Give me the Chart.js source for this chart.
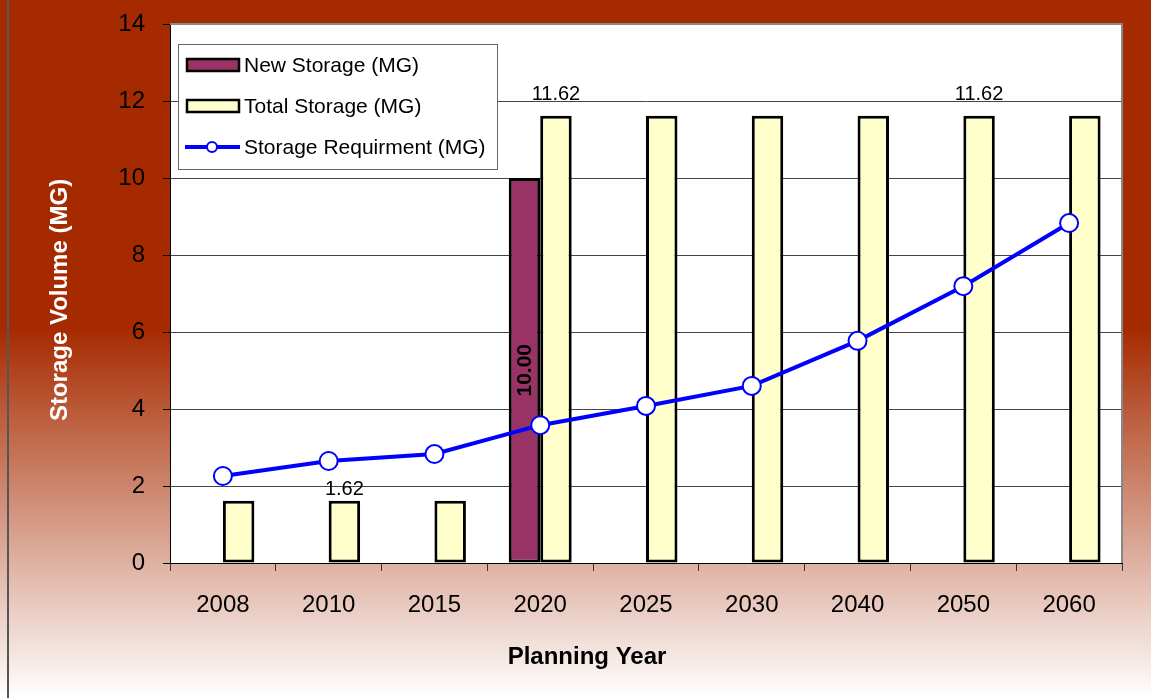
<!DOCTYPE html>
<html>
<head>
<meta charset="utf-8">
<script src="https://cdn.jsdelivr.net/npm/chart.js@4/dist/chart.umd.min.js"></script>
<style>
    html, body { margin: 0; padding: 0; background: #fff; }
    #wrap { width: 1151px; height: 698px; }
</style>
</head>
<body>
<div id="wrap"><canvas id="storageChart" width="1151" height="698"></canvas></div>
<script>
// Chart data
const years = ['2008', '2010', '2015', '2020', '2025', '2030', '2040', '2050', '2060'];
const newStorage = [null, null, null, 10, null, null, null, null, null];
const totalStorage = [1.62, 1.62, 1.62, 11.62, 11.62, 11.62, 11.62, 11.62, 11.62];
const storageReq = [2.26, 2.65, 2.83, 3.58, 4.08, 4.6, 5.77, 7.19, 8.83];
const yTicks = [0, 2, 4, 6, 8, 10, 12, 14];
const labelledTotals = [1, 3, 7]; // bars that carry a value label
const seriesNames = ['New Storage (MG)', 'Total Storage (MG)', 'Storage Requirment (MG)'];

const FONT = '"Liberation Sans", Arial, sans-serif';

// Background, frame and decorations
const decor = {
    id: 'decor',
    beforeDraw(chart) {
        const ctx = chart.ctx;
        const h = chart.height, w = chart.width;
        const g = ctx.createLinearGradient(0, 0, 0, h);
        g.addColorStop(0, '#a62a00');
        g.addColorStop(0.47, '#a62a00');
        g.addColorStop(1, '#ffffff');
        ctx.save();
        ctx.fillStyle = g;
        ctx.fillRect(0, 0, w, h);
        // plot area
        const a = chart.chartArea;
        ctx.fillStyle = '#fff';
        ctx.fillRect(a.left, a.top, a.right - a.left, a.bottom - a.top);
        // left frame line
        ctx.strokeStyle = '#555';
        ctx.lineWidth = 2;
        ctx.beginPath();
        ctx.moveTo(8, 0);
        ctx.lineTo(8, h);
        ctx.stroke();
        ctx.restore();
    },
    beforeDatasetsDraw(chart) {
        const ctx = chart.ctx;
        const a = chart.chartArea;
        ctx.save();
        ctx.strokeStyle = '#888';
        ctx.lineWidth = 2;
        ctx.beginPath();
        ctx.moveTo(a.left, a.top);
        ctx.lineTo(a.right, a.top);
        ctx.lineTo(a.right, a.bottom);
        ctx.stroke();
        ctx.restore();
    },
    afterDatasetsDraw(chart) {
        const ctx = chart.ctx;
        ctx.save();
        ctx.fillStyle = '#000';
        ctx.textAlign = 'center';
        ctx.textBaseline = 'alphabetic';
        ctx.font = '20px ' + FONT;
        const totalMeta = chart.getDatasetMeta(1);
        labelledTotals.forEach(i => {
            const bar = totalMeta.data[i];
            const lift = totalStorage[i] > 10 ? 16 : 6;
            ctx.fillText(totalStorage[i].toFixed(2), bar.x, bar.y - lift);
        });
        // rotated label inside new storage bar
        const newMeta = chart.getDatasetMeta(0);
        newStorage.forEach((v, i) => {
            if (v == null) return;
            const bar = newMeta.data[i];
            ctx.save();
            ctx.translate(bar.x, (bar.y + bar.base) / 2);
            ctx.rotate(-Math.PI / 2);
            ctx.font = 'bold 21px ' + FONT;
            ctx.textBaseline = 'middle';
            ctx.fillText(v.toFixed(2), 0, 1);
            ctx.restore();
        });
        ctx.restore();
    },
    afterDraw(chart) {
        const ctx = chart.ctx;
        ctx.save();
        // axis titles
        ctx.fillStyle = '#000';
        ctx.font = 'bold 24px ' + FONT;
        ctx.textAlign = 'center';
        ctx.textBaseline = 'middle';
        ctx.fillText('Planning Year', 587, 657);
        ctx.save();
        ctx.translate(60, 300);
        ctx.rotate(-Math.PI / 2);
        ctx.fillStyle = '#fff';
        ctx.fillText('Storage Volume (MG)', 0, 0);
        ctx.restore();

        // legend box
        const lx = 178, ly = 44, lw = 319, lh = 125;
        ctx.fillStyle = '#fff';
        ctx.fillRect(lx, ly, lw, lh);
        ctx.strokeStyle = '#666';
        ctx.lineWidth = 1;
        ctx.strokeRect(lx + 0.5, ly + 0.5, lw, lh);
        const rows = [65, 106, 147];
        const ds = chart.data.datasets;
        ctx.font = '21px ' + FONT;
        ctx.textAlign = 'left';
        rows.forEach((y, k) => {
            if (k < 2) {
                ctx.fillStyle = ds[k].backgroundColor;
                ctx.fillRect(187, y - 6, 52, 12);
                ctx.strokeStyle = '#000';
                ctx.lineWidth = 2.5;
                ctx.strokeRect(187, y - 6, 52, 12);
            } else {
                ctx.strokeStyle = ds[k].borderColor;
                ctx.lineWidth = 4;
                ctx.beginPath();
                ctx.moveTo(185, y);
                ctx.lineTo(240, y);
                ctx.stroke();
                ctx.fillStyle = '#fff';
                ctx.lineWidth = 2;
                ctx.beginPath();
                ctx.arc(212, y, 5, 0, Math.PI * 2);
                ctx.fill();
                ctx.stroke();
            }
            ctx.fillStyle = '#000';
            ctx.fillText(seriesNames[k], 244, y + 1);
        });
        ctx.restore();
    }
};

new Chart(document.getElementById('storageChart'), {
    type: 'bar',
    data: {
        labels: years,
        datasets: [
            {
                label: seriesNames[0],
                data: newStorage,
                backgroundColor: '#993366',
                borderColor: '#000',
                borderWidth: 3,
                borderSkipped: false,
                order: 1,
                categoryPercentage: 0.595,
                barPercentage: 1
            },
            {
                label: seriesNames[1],
                data: totalStorage,
                backgroundColor: '#ffffcc',
                borderColor: '#000',
                borderWidth: 3,
                borderSkipped: false,
                order: 1,
                categoryPercentage: 0.595,
                barPercentage: 1
            },
            {
                type: 'line',
                label: seriesNames[2],
                data: storageReq,
                borderColor: '#0000ff',
                borderWidth: 4,
                pointRadius: 9,
                pointBorderWidth: 2,
                pointBackgroundColor: '#fff',
                pointBorderColor: '#0000ff',
                tension: 0,
                order: 0
            }
        ]
    },
    options: {
        responsive: false,
        animation: false,
        layout: { padding: { top: 24, right: 29, left: 0, bottom: 0 } },
        plugins: {
            legend: { display: false },
            tooltip: { enabled: false }
        },
        scales: {
            x: {
                offset: true,
                grid: {
                    offset: true,
                    drawOnChartArea: false,
                    drawTicks: true,
                    tickLength: 8,
                    tickColor: '#333',
                    tickWidth: 1
                },
                border: { color: '#000', width: 1 },
                ticks: {
                    color: '#000',
                    font: { family: FONT, size: 24 },
                    padding: 20,
                    maxRotation: 0
                },
                afterFit(s) {
                    s.height = 135;
                    s.paddingLeft = 0;
                    s.paddingRight = 0;
                }
            },
            y: {
                min: 0,
                max: 14,
                afterBuildTicks(s) { s.ticks = yTicks.map(v => ({ value: v })); },
                grid: {
                    color: '#444',
                    lineWidth: 1,
                    drawTicks: true,
                    tickLength: 7,
                    tickColor: '#000'
                },
                border: { color: '#000', width: 1 },
                ticks: {
                    color: '#000',
                    font: { family: FONT, size: 24 },
                    padding: 18
                },
                afterFit(s) {
                    s.width = 170;
                    s.paddingTop = 0;
                    s.paddingBottom = 0;
                }
            }
        }
    },
    plugins: [decor]
});
</script>
</body>
</html>
